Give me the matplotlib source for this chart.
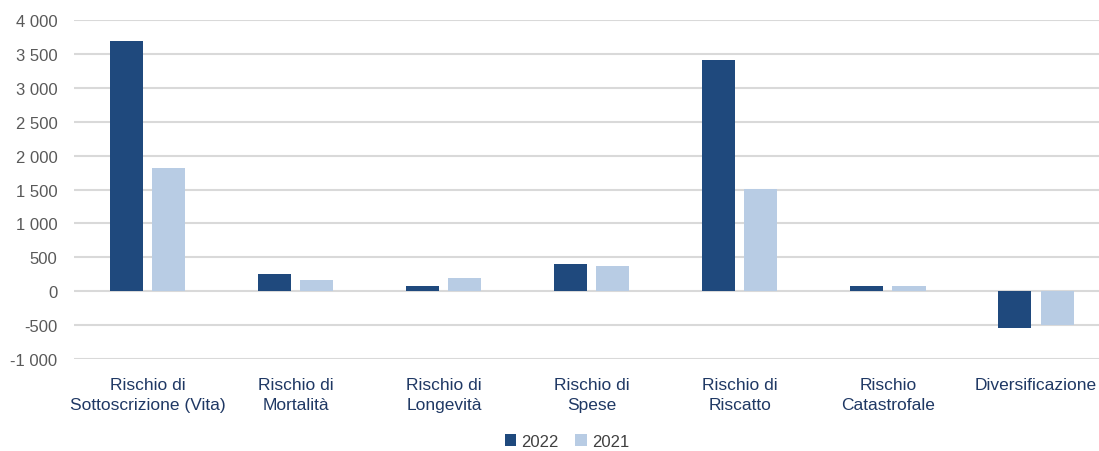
import matplotlib.pyplot as plt
import numpy as np

# ==========================================
# DATA
# ==========================================

categories = [
    "Rischio di\nSottoscrizione (Vita)",
    "Rischio di\nMortalità",
    "Rischio di\nLongevità",
    "Rischio di\nSpese",
    "Rischio di\nRiscatto",
    "Rischio\nCatastrofale",
    "Diversificazione",
]

values_2022 = [3690, 250, 80, 395, 3410, 80, -540]
values_2021 = [1815, 160, 200, 375, 1505, 75, -505]

y_ticks = [-1000, -500, 0, 500, 1000, 1500, 2000, 2500, 3000, 3500, 4000]
y_tick_labels = ["-1 000", "-500", "0", "500", "1 000", "1 500", "2 000",
                 "2 500", "3 000", "3 500", "4 000"]

# ==========================================
# STYLE
# ==========================================

plt.rcParams['font.family'] = ['Liberation Sans', 'DejaVu Sans']

DARK = "#1f497d"
LIGHT = "#b8cce4"

# ==========================================
# PLOT
# ==========================================

fig = plt.figure(figsize=(10.99, 4.52), dpi=100)
ax = fig.add_axes([0.0673, 0.2035, 0.9427, 0.75])

x = np.arange(len(categories))
width = 0.223
offset = 0.142

ax.bar(x - offset, values_2022, width, color=DARK, label="2022", zorder=3)
ax.bar(x + offset, values_2021, width, color=LIGHT, label="2021", zorder=3)

ax.set_xlim(-0.5, len(categories) - 0.5)
ax.set_ylim(-1000, 4000)

ax.set_yticks(y_ticks)
ax.set_yticklabels(y_tick_labels, fontsize=12, color="#595959")
ax.set_xticks(x)
ax.set_xticklabels(categories, fontsize=12.5, color="#1f3864", linespacing=1.45)

ax.tick_params(axis='both', length=0)
ax.tick_params(axis='y', pad=12)
ax.tick_params(axis='x', pad=13)

ax.grid(axis='y', color="#d9d9d9", linewidth=1.5, zorder=0)
for spine in ax.spines.values():
    spine.set_visible(False)

fig.legend(loc='center', bbox_to_anchor=(0.516, 0.022), ncol=2, borderpad=0,
           frameon=False, fontsize=12, handlelength=0.7, handleheight=0.7,
           handletextpad=0.3, columnspacing=1.0, labelcolor="#404040")

fig.savefig("out.png", dpi=100)
